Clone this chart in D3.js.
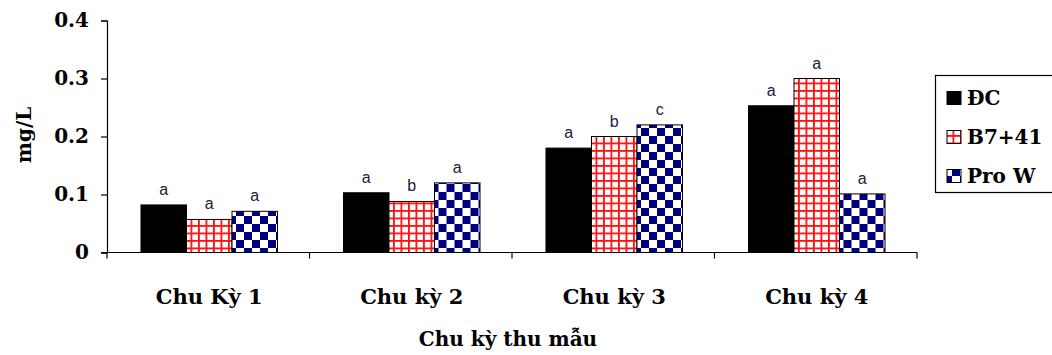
<!DOCTYPE html>
<html>
<head>
<meta charset="utf-8">
<script src="https://cdn.jsdelivr.net/npm/d3@7"></script>
<style>
  html, body { margin: 0; padding: 0; background: #fff; }
  svg { display: block; }
  .serif { font-family: "DejaVu Serif", serif; font-weight: bold; fill: #000; }
  .sig { font-family: "Liberation Sans", Arial, sans-serif; fill: #20203a; }
</style>
</head>
<body>
<svg id="chart" width="1052" height="355"></svg>
<script>
// Sampling periods and series
const categories = ["Chu Kỳ 1", "Chu kỳ 2", "Chu kỳ 3", "Chu kỳ 4"];
const seriesNames = ["ĐC", "B7+41", "Pro W"];
const dcValues = [0.082, 0.103, 0.18, 0.253];
const b741Values = [0.057, 0.088, 0.2, 0.3];
const proWValues = [0.071, 0.12, 0.22, 0.101];
// Significance letters above each bar
const dcLetters = ["a", "a", "a", "a"];
const b741Letters = ["a", "b", "b", "a"];
const proWLetters = ["a", "a", "c", "a"];
const yTicks = [0, 0.1, 0.2, 0.3, 0.4];
const yTickLabels = ["0", "0.1", "0.2", "0.3", "0.4"];

const seriesValues = [dcValues, b741Values, proWValues];
const seriesLetters = [dcLetters, b741Letters, proWLetters];

const svg = d3.select("#chart");

// Fill patterns: solid black, red grid, navy checkerboard
const defs = svg.append("defs");
const grid = defs.append("pattern").attr("id", "pat-grid")
  .attr("patternUnits", "userSpaceOnUse").attr("width", 7.5).attr("height", 7.5);
grid.append("rect").attr("width", 7.5).attr("height", 7.5).attr("fill", "#fff");
grid.append("rect").attr("x", 0).attr("y", 0).attr("width", 1.8).attr("height", 7.5).attr("fill", "#ff1010");
grid.append("rect").attr("x", 0).attr("y", 0).attr("width", 7.5).attr("height", 1.8).attr("fill", "#ff1010");

const chk = defs.append("pattern").attr("id", "pat-check")
  .attr("patternUnits", "userSpaceOnUse").attr("width", 16).attr("height", 16);
chk.append("rect").attr("width", 16).attr("height", 16).attr("fill", "#fff");
chk.append("rect").attr("x", 0).attr("y", 0).attr("width", 8).attr("height", 8).attr("fill", "#000080");
chk.append("rect").attr("x", 8).attr("y", 8).attr("width", 8).attr("height", 8).attr("fill", "#000080");

const fills = ["#000", "url(#pat-grid)", "url(#pat-check)"];

// Plot area
const plotLeft = 107, plotRight = 917, plotTop = 20.5, plotBottom = 252.5;

const y = d3.scaleLinear().domain([0, 0.4]).range([plotBottom, plotTop]);
const x0 = d3.scaleBand().domain(categories).range([plotLeft, plotRight]).paddingInner(0).paddingOuter(0);
const x1 = d3.scaleBand().domain(seriesNames).range([0, x0.bandwidth()]).paddingInner(0).paddingOuter(0.725);

// Bars
const groups = svg.append("g").selectAll("g")
  .data(categories)
  .join("g")
  .attr("transform", d => `translate(${x0(d) + 1},0)`);

groups.each(function(cat, ci) {
  const g = d3.select(this);
  seriesNames.forEach((s, si) => {
    const v = seriesValues[si][ci];
    g.append("rect")
      .attr("x", x1(s))
      .attr("y", y(v))
      .attr("width", x1.bandwidth())
      .attr("height", plotBottom - y(v))
      .attr("fill", fills[si])
      .attr("stroke", "#000")
      .attr("stroke-width", 1);
    g.append("text")
      .attr("class", "sig")
      .attr("x", x1(s) + x1.bandwidth() / 2)
      .attr("y", y(v) - 10)
      .attr("text-anchor", "middle")
      .attr("font-size", 16)
      .text(seriesLetters[si][ci]);
  });
});

// Y axis
const yAxis = d3.axisLeft(y).tickValues(yTicks)
  .tickFormat((d, i) => yTickLabels[i]).tickSize(6).tickPadding(12);
const gy = svg.append("g").attr("transform", `translate(${plotLeft},0)`).call(yAxis);
gy.attr("font-family", null).attr("font-size", null);
gy.select(".domain").attr("stroke", "#000").attr("stroke-width", 1.2);
gy.selectAll(".tick line").attr("stroke", "#000").attr("stroke-width", 1.2);
gy.selectAll(".tick text").attr("class", "serif").attr("font-size", 20);

// X axis: baseline with ticks between categories
const xAxisG = svg.append("g");
xAxisG.append("line")
  .attr("x1", plotLeft - 6).attr("x2", plotRight)
  .attr("y1", plotBottom).attr("y2", plotBottom)
  .attr("stroke", "#000").attr("stroke-width", 1.2);
const boundaries = categories.map(c => x0(c)).concat([x0(categories[categories.length - 1]) + x0.bandwidth()]);
xAxisG.selectAll("line.tk").data(boundaries).join("line")
  .attr("class", "tk")
  .attr("x1", d => d).attr("x2", d => d)
  .attr("y1", plotBottom).attr("y2", plotBottom + 6)
  .attr("stroke", "#000").attr("stroke-width", 1.2);
xAxisG.selectAll("text").data(categories).join("text")
  .attr("class", "serif")
  .attr("x", d => x0(d) + x0.bandwidth() / 2 + 1)
  .attr("y", 304)
  .attr("text-anchor", "middle")
  .attr("font-size", 21)
  .text(d => d);

// Axis titles
svg.append("text").attr("class", "serif")
  .attr("x", 508).attr("y", 346)
  .attr("text-anchor", "middle").attr("font-size", 20)
  .text("Chu kỳ thu mẫu");
svg.append("text").attr("class", "serif")
  .attr("transform", "translate(31,135) rotate(-90)")
  .attr("text-anchor", "middle").attr("font-size", 20)
  .text("mg/L");

// Legend
const legend = svg.append("g");
legend.append("rect")
  .attr("x", 935.5).attr("y", 75.5).attr("width", 120).attr("height", 117)
  .attr("fill", "#fff").attr("stroke", "#000").attr("stroke-width", 1.2);
const legendY = d3.scalePoint().domain(seriesNames).range([98, 176]);
const swFills = ["#000", "url(#pat-grid)", "url(#pat-check)"];
seriesNames.forEach((s, i) => {
  legend.append("rect")
    .attr("x", 947).attr("y", legendY(s) - 6.5)
    .attr("width", 14).attr("height", 13)
    .attr("fill", swFills[i]).attr("stroke", "#000").attr("stroke-width", 1);
  legend.append("text").attr("class", "serif")
    .attr("x", 967).attr("y", legendY(s) + 7)
    .attr("font-size", 20)
    .text(s);
});
</script>
</body>
</html>
